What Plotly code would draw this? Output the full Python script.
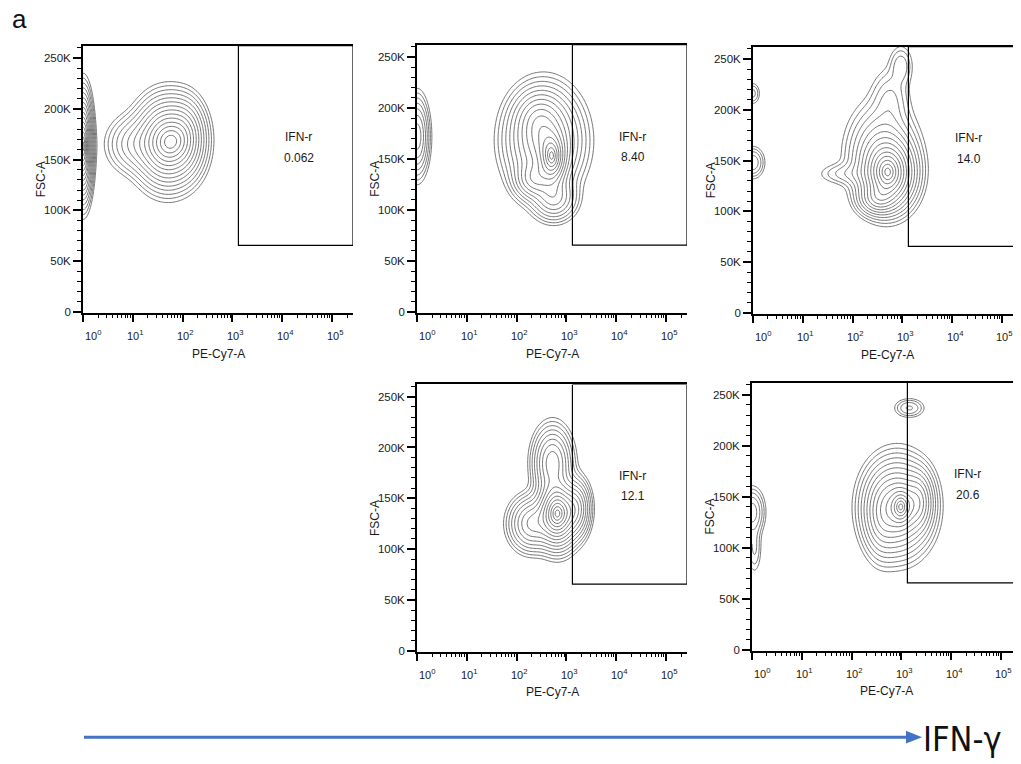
import numpy as np
import plotly.graph_objects as go

PAGE_MARGIN = 8                      # default <body> margin of the html page
W, H = 1021 - PAGE_MARGIN, 764 - PAGE_MARGIN

# ---------------- data ----------------
X_MAX_DEC = 5.42          # log10(262144), right end of PE-Cy7-A axis
Y_MAX_K = 262             # top of FSC-A axis (thousands)
y_tick_vals = [0, 50, 100, 150, 200, 250]
y_tick_text = ["0", "50K", "100K", "150K", "200K", "250K"]
x_decades = [0, 1, 2, 3, 4, 5]

gate_name = "IFN-r"
gate_values = ["0.062", "8.40", "14.0", "12.1", "20.6"]
gate_x0_dec = 3.12        # left edge of gate (log10 PE-Cy7-A)
gate_y0_k = 65.5          # bottom edge of gate (FSC-A, K)

# cell populations per panel: (log10 x centre, FSC-A centre K, x spread dec, y spread K, relative weight)
pops_p1 = [(0.00, 163, 0.09, 24, 1.00), (1.70, 167, 0.30, 20, 0.90), (1.05, 165, 0.28, 14, 0.13),
           (2.05, 172, 0.20, 18, 0.25)]
pops_p2 = [(0.00, 172, 0.12, 19, 0.28), (2.55, 168, 0.36, 24, 0.60), (2.72, 150, 0.15, 14, 0.70),
           (2.35, 130, 0.20, 10, 0.30), (2.75, 112, 0.22, 11, 0.25), (2.45, 190, 0.25, 14, 0.20)]
pops_p3 = [(0.00, 216, 0.08, 6, 0.05), (0.00, 148, 0.12, 8, 0.10), (2.72, 137, 0.26, 17, 1.00),
           (2.60, 155, 0.33, 24, 0.30), (1.90, 137, 0.32, 6, 0.05), (2.97, 243, 0.13, 11, 0.06),
           (2.75, 210, 0.20, 16, 0.07), (2.50, 112, 0.20, 8, 0.30)]
pops_p4 = [(2.82, 135, 0.20, 16, 1.00), (2.72, 185, 0.19, 17, 0.35), (2.30, 125, 0.22, 13, 0.30),
           (3.20, 140, 0.14, 14, 0.30)]
pops_p5 = [(0.00, 135, 0.13, 12, 0.15), (0.05, 100, 0.08, 14, 0.05), (3.16, 237, 0.16, 5, 0.08),
           (2.92, 140, 0.32, 22, 0.80), (3.00, 140, 0.12, 10, 0.50), (3.35, 145, 0.15, 15, 0.35),
           (2.60, 130, 0.18, 20, 0.20)]

panel_pops = [pops_p1, pops_p2, pops_p3, pops_p4, pops_p5]

# pixel boxes of the five plot areas in the screenshot (left, top, right, bottom)
boxes = [(83, 46, 353, 315), (417, 45, 687, 315), (753, 47, 1021, 316),
         (417, 387, 687, 656), (752, 385, 1021, 655)]
px_per_dec = 49.8


def px(x):
    return (x - PAGE_MARGIN) / W


def py(y):
    return 1 - (y - PAGE_MARGIN) / H


FONT = "Liberation Sans, Arial, sans-serif"
TXT = "#1a1a1a"

xs = np.linspace(0, X_MAX_DEC, 200)
ys = np.linspace(0, Y_MAX_K, 200)
XX, YY = np.meshgrid(xs, ys)


def field(pops):
    z = np.zeros_like(XX)
    for cx, cy, sx, sy, w in pops:
        z += w * np.exp(-0.5 * (((XX - cx) / sx) ** 2 + ((YY - cy) / sy) ** 2))
    z = z / z.max()
    r = np.sqrt(-2 * np.log(np.clip(z, 1e-12, None)))
    return np.round(np.minimum(r, 6), 3)


fig = go.Figure()
layout = dict(width=W, height=H, margin=dict(l=0, r=0, t=0, b=0),
              paper_bgcolor="white", plot_bgcolor="white", showlegend=False)
annotations = []

x_minor = [m * 10 ** k for k in range(0, 6) for m in range(2, 10) if m * 10 ** k <= 262144]
y_minor = [v for v in range(0, 261, 10) if v % 50 != 0]

for i, (pops, box) in enumerate(zip(panel_pops, boxes)):
    n = "" if i == 0 else str(i + 1)
    xa, ya = "x" + n, "y" + n
    l, t, r, b = box
    xmax = min(X_MAX_DEC, (r - l) / px_per_dec) if r >= 1021 else X_MAX_DEC

    fig.add_trace(go.Contour(
        x=np.round(10 ** xs, 4), y=ys, z=field(pops), xaxis=xa, yaxis=ya,
        contours=dict(start=0.2, end=3.0, size=0.2, coloring="lines"),
        colorscale=[[0, "#505050"], [1, "#505050"]], showscale=False,
        line=dict(width=0.8), hoverinfo="skip"))

    # gate rectangle
    gx = [10 ** gate_x0_dec, 10 ** gate_x0_dec, 10 ** X_MAX_DEC, 10 ** X_MAX_DEC, 10 ** gate_x0_dec]
    gy = [Y_MAX_K, gate_y0_k, gate_y0_k, Y_MAX_K, Y_MAX_K]
    fig.add_trace(go.Scatter(x=gx, y=gy, mode="lines", xaxis=xa, yaxis=ya,
                             line=dict(color="black", width=1.2), hoverinfo="skip", cliponaxis=True))

    layout["xaxis" + n] = dict(
        type="log", range=[0, xmax], domain=[px(l), px(r)], anchor=ya,
        showgrid=False, zeroline=False, showline=True, linecolor="black", linewidth=1.6, mirror=True,
        tickvals=[10 ** d for d in x_decades], showticklabels=False,
        ticks="outside", ticklen=7, tickwidth=1.6, tickcolor="black",
        minor=dict(tickvals=x_minor, ticks="outside", ticklen=3, tickwidth=1, tickcolor="black"),
        fixedrange=True)
    layout["yaxis" + n] = dict(
        range=[-1, Y_MAX_K], domain=[py(b), py(t)], anchor=xa,
        showgrid=False, zeroline=False, showline=True, linecolor="black", linewidth=1.8,
        tickvals=y_tick_vals, ticktext=y_tick_text, ticks="outside", ticklen=8, tickwidth=1.8,
        tickcolor="black", tickfont=dict(family=FONT, size=11.5, color=TXT),
        minor=dict(tickvals=y_minor, ticks="outside", ticklen=4, tickwidth=1, tickcolor="black"),
        fixedrange=True)

    # decade tick labels
    for d in x_decades:
        xpos = d + (0.22 if d == 0 else 0.06)
        annotations.append(dict(x=xpos, y=0, xref=xa, yref=ya + " domain", yanchor="top",
                                yshift=-13, text="10<sup>%d</sup>" % d, showarrow=False,
                                font=dict(family=FONT, size=11, color=TXT)))
    # axis titles
    annotations.append(dict(x=0.5, y=-(50 / (b - t)), xref=xa + " domain", yref=ya + " domain",
                            text="PE-Cy7-A", showarrow=False, font=dict(family=FONT, size=12, color=TXT)))
    annotations.append(dict(x=-(51 / (r - l)), y=0.5, xref=xa + " domain", yref=ya + " domain",
                            text="FSC-A", textangle=-90, showarrow=False,
                            font=dict(family=FONT, size=12, color=TXT)))
    # gate labels
    annotations.append(dict(x=4.33, y=172, xref=xa, yref=ya, text=gate_name, showarrow=False,
                            font=dict(family=FONT, size=12, color=TXT)))
    annotations.append(dict(x=4.33, y=152, xref=xa, yref=ya, text=gate_values[i], showarrow=False,
                            font=dict(family=FONT, size=12, color=TXT)))

# panel letter
annotations.append(dict(x=px(10), y=py(19), xref="paper", yref="paper", xanchor="left",
                        yanchor="middle", text="a", showarrow=False,
                        font=dict(family=FONT, size=26, color="#111111")))
# IFN-gamma arrow
ARROW_BLUE = "#4472C4"
layout["shapes"] = [
    dict(type="line", xref="paper", yref="paper", x0=px(84), x1=px(908), y0=py(742), y1=py(742),
         line=dict(color=ARROW_BLUE, width=3)),
    dict(type="path", xref="paper", yref="paper",
         path="M %f %f L %f %f L %f %f Z" % (px(906), py(735.5), px(922), py(742), px(906), py(748.5)),
         fillcolor=ARROW_BLUE, line=dict(color=ARROW_BLUE, width=0)),
]
annotations.append(dict(x=px(921), y=py(744), xref="paper", yref="paper", xanchor="left",
                        yanchor="middle", text="IFN-γ", showarrow=False,
                        font=dict(family="Liberation Sans Narrow, DejaVu Sans Condensed, Liberation Sans", size=34,
                                  color="#111111")))

layout["annotations"] = annotations
fig.update_layout(**layout)
fig.write_html("out.html")
